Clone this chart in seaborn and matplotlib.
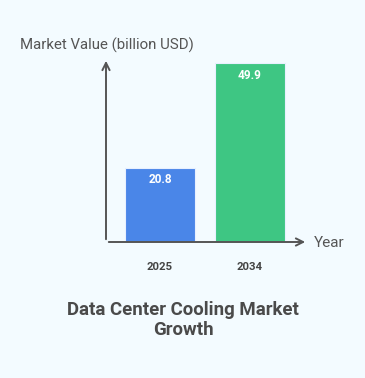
import matplotlib
matplotlib.use("Agg")
import matplotlib.pyplot as plt
import seaborn as sns
import pandas as pd

years = ["2025", "2034"]
values = [20.8, 49.9]
colors = ["#4a86e8", "#3ec683"]
title = "Data Center Cooling Market\nGrowth"
ylabel = "Market Value (billion USD)"
xlabel = "Year"

sns.set_style("white")
plt.rcParams["font.family"] = ["Roboto", "DejaVu Sans"]

bg = "#f3fbff"
W, H = 365, 378
fig = plt.figure(figsize=(W / 100, H / 100), dpi=100, facecolor=bg)
ax_l, ax_r, ax_b, ax_t = 106, 308, 242, 58
ax = fig.add_axes([ax_l / W, (H - ax_b) / H, (ax_r - ax_l) / W, (ax_b - ax_t) / H])
ax.set_facecolor(bg)

df = pd.DataFrame({"year": years, "value": values})
sns.barplot(data=df, x="year", y="value", hue="year", palette=colors, legend=False,
            width=70 / 90, edgecolor="#e8f0ff", linewidth=0.8, ax=ax, saturation=1)

ax.set_xlim(-54 / 90, 1 + 58 / 90)
ax.set_ylim(0, (ax_b - ax_t) / 3.58)
for s in ax.spines.values():
    s.set_visible(False)
ax.set_yticks([])
ax.set_xticks([])
ax.set_xlabel("")
ax.set_ylabel("")

for i, v in enumerate(values):
    ax.text(i, v - 1.5, f"{v}", ha="center", va="top", color="white",
            fontsize=8.5, fontweight="bold")
    ax.text(i, -5.6, years[i], ha="center", va="top", color="#444444",
            fontsize=8.2, fontweight="bold")

arrow_kw = dict(arrowstyle="->", color="#555555", lw=1.4, mutation_scale=13)
ax.annotate("", xy=(0, 1.0), xytext=(0, 0), xycoords="axes fraction",
            arrowprops=arrow_kw, annotation_clip=False)
ax.annotate("", xy=(1.0, 0), xytext=(0, 0), xycoords="axes fraction",
            arrowprops=arrow_kw, annotation_clip=False)

fig.text(20 / W, 1 - 45 / H, ylabel, ha="left", va="center", fontsize=10.8, color="#555555")
fig.text(314 / W, 1 - 243 / H, xlabel, ha="left", va="center", fontsize=11, color="#555555")
fig.text(183 / W, 1 - 320 / H, title, ha="center", va="center", fontsize=13.4,
         fontweight="bold", color="#4a4a4a", linespacing=1.2)

fig.savefig("out.png", dpi=100, facecolor=bg)
